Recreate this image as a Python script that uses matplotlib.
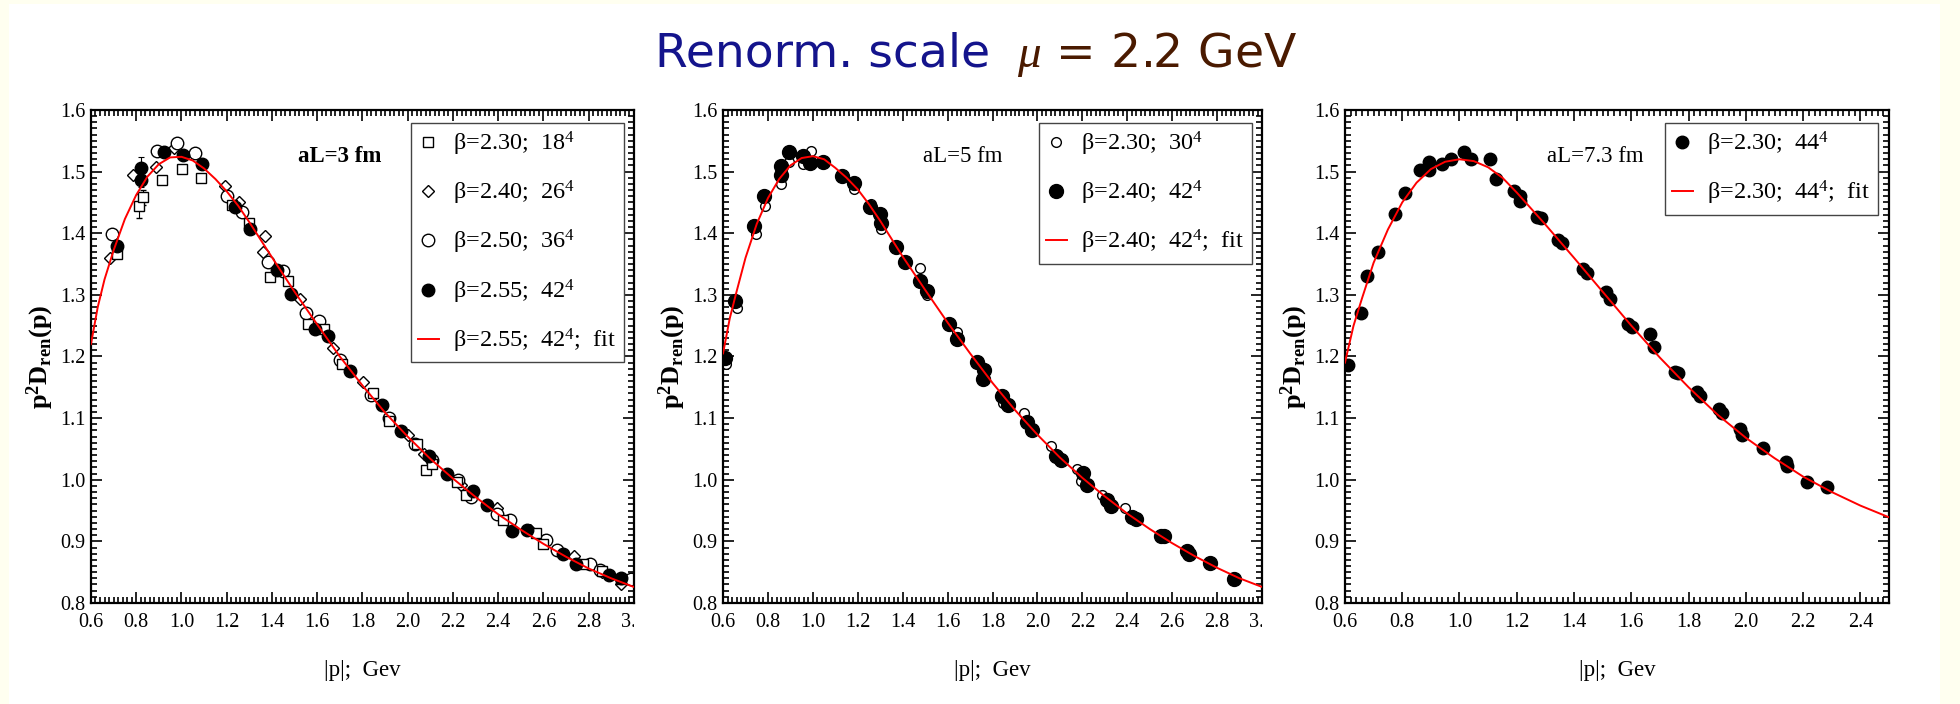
import matplotlib
matplotlib.use("Agg")
import matplotlib.pyplot as plt
from matplotlib.patches import Rectangle
from matplotlib.ticker import MultipleLocator
from matplotlib.transforms import Bbox, TransformedBbox

plt.rcParams["font.family"] = ["Liberation Serif", "DejaVu Serif"]
plt.rcParams["mathtext.fontset"] = "custom"
plt.rcParams["mathtext.rm"] = "Liberation Serif"
plt.rcParams["mathtext.it"] = "Liberation Serif:italic"
plt.rcParams["mathtext.bf"] = "Liberation Serif:bold"

# ---- panel 1: aL = 3 fm ----
p1_sq_x = [0.717, 0.814, 0.828, 0.912, 1.003, 1.085, 1.222, 1.297, 1.391, 1.471, 1.559, 1.631, 1.709,
           1.845, 1.919, 2.040, 2.082, 2.108, 2.220, 2.259, 2.421, 2.569, 2.597, 2.773, 2.857, 2.941]
p1_sq_y = [1.366, 1.444, 1.458, 1.487, 1.505, 1.490, 1.445, 1.417, 1.329, 1.323, 1.253, 1.245, 1.188,
           1.140, 1.096, 1.058, 1.015, 1.026, 0.997, 0.975, 0.935, 0.914, 0.895, 0.864, 0.852, 0.839]
p1_sq_err = [0.005, 0.020, 0.012, 0.005, 0.006, 0.006, 0.004, 0.004, 0.006, 0.004, 0.004, 0.004, 0.003,
             0.003, 0.003, 0.003, 0.004, 0.003, 0.002, 0.002, 0.002, 0.002, 0.002, 0.002, 0.002, 0.002]
p1_di_x = [0.684, 0.786, 0.888, 0.966, 1.191, 1.254, 1.369, 1.360, 1.525, 1.668, 1.804, 2.003, 2.071,
           2.237, 2.393, 2.541, 2.601, 2.737, 2.861, 2.945]
p1_di_y = [1.360, 1.494, 1.507, 1.538, 1.477, 1.450, 1.396, 1.369, 1.294, 1.213, 1.159, 1.073, 1.042,
           0.991, 0.954, 0.918, 0.902, 0.876, 0.851, 0.830]
p1_oc_x = [0.693, 0.894, 0.981, 1.059, 1.202, 1.269, 1.384, 1.447, 1.551, 1.607, 1.700, 1.839, 1.919,
           2.034, 2.108, 2.222, 2.281, 2.393, 2.452, 2.612, 2.662, 2.807, 2.852, 2.987]
p1_oc_y = [1.399, 1.533, 1.546, 1.530, 1.461, 1.435, 1.353, 1.339, 1.271, 1.258, 1.194, 1.137, 1.100,
           1.058, 1.032, 1.000, 0.972, 0.945, 0.935, 0.903, 0.886, 0.864, 0.854, 0.839]
p1_fc_x = [0.715, 0.823, 0.823, 0.921, 1.009, 1.092, 1.235, 1.304, 1.423, 1.486, 1.590, 1.648, 1.746,
           1.886, 1.971, 2.096, 2.174, 2.289, 2.352, 2.463, 2.526, 2.686, 2.744, 2.891, 2.943]
p1_fc_y = [1.379, 1.506, 1.487, 1.531, 1.527, 1.512, 1.442, 1.407, 1.341, 1.302, 1.244, 1.233, 1.176,
           1.121, 1.079, 1.038, 1.010, 0.981, 0.959, 0.916, 0.918, 0.880, 0.864, 0.846, 0.841]
p1_fc_err = [0.006, 0.018, 0.012, 0.004, 0.004, 0.004, 0.003, 0.003, 0.003, 0.003, 0.003, 0.003, 0.002,
             0.002, 0.002, 0.002, 0.002, 0.002, 0.002, 0.002, 0.002, 0.002, 0.002, 0.002, 0.002]
p1_fit_x = [0.60, 0.63, 0.66, 0.70, 0.75, 0.80, 0.85, 0.90, 0.95, 1.00, 1.05, 1.10, 1.15, 1.20, 1.25,
            1.30, 1.40, 1.50, 1.60, 1.70, 1.80, 1.90, 2.00, 2.10, 2.20, 2.30, 2.40, 2.50, 2.60, 2.70,
            2.80, 2.90, 3.00]
p1_fit_y = [1.220, 1.280, 1.325, 1.372, 1.423, 1.462, 1.492, 1.512, 1.523, 1.524, 1.518, 1.505, 1.488,
            1.468, 1.445, 1.418, 1.361, 1.305, 1.252, 1.200, 1.153, 1.109, 1.070, 1.034, 1.002, 0.972,
            0.944, 0.919, 0.896, 0.875, 0.856, 0.840, 0.826]

# ---- panel 2: aL = 5 fm ----
p2_oc_x = [0.611, 0.660, 0.746, 0.788, 0.858, 0.863, 0.894, 0.958, 0.993, 1.183, 1.258, 1.302, 1.477,
           1.510, 1.640, 1.755, 1.848, 1.942, 2.062, 2.174, 2.192, 2.287, 2.391]
p2_oc_y = [1.187, 1.278, 1.398, 1.444, 1.480, 1.492, 1.515, 1.512, 1.533, 1.471, 1.447, 1.407, 1.344,
           1.299, 1.239, 1.183, 1.124, 1.108, 1.055, 1.017, 0.998, 0.975, 0.954]
p2_fc_x = [0.607, 0.655, 0.739, 0.783, 0.856, 0.856, 0.892, 0.955, 0.989, 1.046, 1.130, 1.183, 1.254,
           1.298, 1.302, 1.370, 1.410, 1.476, 1.510, 1.605, 1.640, 1.730, 1.762, 1.759, 1.841, 1.867,
           1.954, 1.976, 2.082, 2.104, 2.201, 2.219, 2.311, 2.329, 2.420, 2.439, 2.548, 2.563, 2.665,
           2.676, 2.768, 2.876]
p2_fc_y = [1.197, 1.290, 1.412, 1.460, 1.494, 1.509, 1.531, 1.526, 1.514, 1.515, 1.493, 1.482, 1.442,
           1.431, 1.417, 1.377, 1.353, 1.323, 1.306, 1.253, 1.229, 1.191, 1.178, 1.164, 1.136, 1.121,
           1.094, 1.081, 1.038, 1.032, 1.011, 0.991, 0.967, 0.958, 0.940, 0.937, 0.909, 0.908, 0.884,
           0.880, 0.865, 0.839]
p2_fit_x = [0.60, 0.63, 0.66, 0.70, 0.75, 0.80, 0.85, 0.90, 0.95, 1.00, 1.05, 1.10, 1.15, 1.20, 1.25,
            1.30, 1.40, 1.50, 1.60, 1.70, 1.80, 1.90, 2.00, 2.10, 2.20, 2.30, 2.40, 2.50, 2.60, 2.70,
            2.80, 2.90, 3.00]
p2_fit_y = [1.205, 1.262, 1.305, 1.360, 1.415, 1.457, 1.488, 1.510, 1.522, 1.525, 1.520, 1.506, 1.490,
            1.471, 1.447, 1.420, 1.362, 1.308, 1.255, 1.205, 1.157, 1.113, 1.073, 1.036, 1.003, 0.973,
            0.945, 0.920, 0.897, 0.876, 0.857, 0.840, 0.826]

# ---- panel 3: aL = 7.3 fm ----
p3_fc_x = [0.612, 0.656, 0.678, 0.717, 0.776, 0.810, 0.861, 0.893, 0.893, 0.940, 0.970, 1.014, 1.039,
           1.105, 1.128, 1.190, 1.211, 1.211, 1.271, 1.285, 1.344, 1.359, 1.430, 1.446, 1.512, 1.527,
           1.590, 1.603, 1.665, 1.679, 1.751, 1.763, 1.830, 1.839, 1.905, 1.915, 1.978, 1.988, 2.061,
           2.139, 2.143, 2.212, 2.283]
p3_fc_y = [1.186, 1.271, 1.331, 1.369, 1.431, 1.465, 1.503, 1.515, 1.503, 1.512, 1.520, 1.531, 1.520,
           1.521, 1.488, 1.469, 1.452, 1.460, 1.426, 1.424, 1.389, 1.384, 1.342, 1.336, 1.304, 1.293,
           1.253, 1.248, 1.236, 1.215, 1.175, 1.173, 1.142, 1.136, 1.115, 1.108, 1.083, 1.072, 1.051,
           1.029, 1.023, 0.997, 0.989]
p3_fit_x = [0.60, 0.63, 0.66, 0.70, 0.75, 0.80, 0.85, 0.90, 0.95, 1.00, 1.05, 1.10, 1.15, 1.20, 1.30,
            1.40, 1.50, 1.60, 1.70, 1.80, 1.90, 2.00, 2.10, 2.20, 2.30, 2.40, 2.50]
p3_fit_y = [1.190, 1.250, 1.295, 1.352, 1.406, 1.450, 1.482, 1.504, 1.516, 1.520, 1.517, 1.507, 1.490,
            1.466, 1.414, 1.360, 1.305, 1.250, 1.198, 1.150, 1.106, 1.068, 1.035, 1.005, 0.980, 0.958,
            0.939]

panel_tags = ["aL=3 fm", "aL=5 fm", "aL=7.3 fm"]
x_max = [3.0, 3.0, 2.5]

OPEN = dict(mfc="white", mec="black", mew=1.0, ls="none")
FILLED = dict(mfc="black", mec="black", ls="none")
ERR = dict(ecolor="black", elinewidth=0.8, capsize=2, capthick=0.8)
FIT = dict(color="#ff0000", lw=1.4, zorder=4)


def _style_axes(ax, fig, xmax):
    ax.set_xlim(0.6, xmax)
    ax.set_ylim(0.8, 1.6)
    ax.xaxis.set_major_locator(MultipleLocator(0.2))
    ax.xaxis.set_minor_locator(MultipleLocator(0.02))
    ax.yaxis.set_major_locator(MultipleLocator(0.1))
    ax.yaxis.set_minor_locator(MultipleLocator(0.01))
    ax.xaxis.set_major_formatter(plt.FuncFormatter(lambda v, _: f"{v:.1f}"))
    ax.yaxis.set_major_formatter(plt.FuncFormatter(lambda v, _: f"{v:.1f}"))
    ax.tick_params(which="both", direction="in", top=True, right=True, width=1.2, labelsize=14.5)
    ax.tick_params(which="major", length=8)
    ax.tick_params(which="minor", length=4)
    ax.tick_params(axis="x", pad=7)
    ax.tick_params(axis="y", pad=4)
    for sp in ax.spines.values():
        sp.set_linewidth(1.6)
    ax.set_xlabel("|p|;  Gev", fontsize=16.5)
    ax.xaxis.set_label_coords(0.5, -0.115)
    ax.set_ylabel(r"$\mathbf{p^{2}D_{ren}(p)}$", fontsize=19)
    ax.yaxis.set_label_coords(-0.065, 0.5)
    # last tick label is cut off at the frame, as in the original
    pos = ax.get_position()
    clip = TransformedBbox(Bbox([[0, 0], [pos.x1, 1]]), fig.transFigure)
    for lbl in ax.get_xticklabels():
        lbl.set_clip_box(clip)
        lbl.set_clip_on(True)


def _legend(ax, handles, anchor):
    leg = ax.legend(handles=handles, loc="upper right", bbox_to_anchor=anchor, fontsize=17.5,
                    frameon=True, fancybox=False, edgecolor="#444444", framealpha=1,
                    borderpad=0.3, labelspacing=0.86, handlelength=0.85, handletextpad=0.6,
                    borderaxespad=0, numpoints=1)
    leg.get_frame().set_linewidth(1.0)
    return leg


fig = plt.figure(figsize=(19.6, 7.04), dpi=100, facecolor="#fffff0")
fig.patches.append(Rectangle((0.0046, 0.0), 0.985, 0.994, transform=fig.transFigure,
                             facecolor="white", edgecolor="none", zorder=-10))

fig.text(0.505, 0.905, "Renorm. scale", color="#14148c", fontsize=34,
         family=["DejaVu Sans"], ha="right", va="baseline")
fig.text(0.519, 0.905, r"$\mu$ = 2.2 GeV", color="#4a1a00", fontsize=34,
         family=["DejaVu Sans"], ha="left", va="baseline")

rects = [[0.0464, 0.1435, 0.2770, 0.7003],
         [0.3689, 0.1435, 0.2750, 0.7003],
         [0.6862, 0.1435, 0.2776, 0.7003]]
axes = [fig.add_axes(r) for r in rects]

# panel 1
ax = axes[0]
sq = ax.errorbar(p1_sq_x, p1_sq_y, yerr=p1_sq_err, marker="s", ms=7, **OPEN, **ERR)[0]
sq.set_label(r"β=2.30;  18$^4$")
di, = ax.plot(p1_di_x, p1_di_y, marker="D", ms=6.5, label=r"β=2.40;  26$^4$", **OPEN)
oc, = ax.plot(p1_oc_x, p1_oc_y, marker="o", ms=9, label=r"β=2.50;  36$^4$", **OPEN)
fc = ax.errorbar(p1_fc_x, p1_fc_y, yerr=p1_fc_err, marker="o", ms=9, **FILLED, **ERR)[0]
fc.set_label(r"β=2.55;  42$^4$")
fit, = ax.plot(p1_fit_x, p1_fit_y, label=r"β=2.55;  42$^4$;  fit", **FIT)
ax.text(1.70, 1.525, panel_tags[0], fontsize=16.5, fontweight="bold", ha="center", va="center")
_legend(ax, [sq, di, oc, fc, fit], (0.981, 0.974))

# panel 2
ax = axes[1]
oc, = ax.plot(p2_oc_x, p2_oc_y, marker="o", ms=7, label=r"β=2.30;  30$^4$", **OPEN)
fc, = ax.plot(p2_fc_x, p2_fc_y, marker="o", ms=10, label=r"β=2.40;  42$^4$", **FILLED)
fit, = ax.plot(p2_fit_x, p2_fit_y, label=r"β=2.40;  42$^4$;  fit", **FIT)
ax.text(1.666, 1.525, panel_tags[1], fontsize=16.5, ha="center", va="center")
_legend(ax, [oc, fc, fit], (0.981, 0.974))

# panel 3
ax = axes[2]
fc, = ax.plot(p3_fc_x, p3_fc_y, marker="o", ms=9, label=r"β=2.30;  44$^4$", **FILLED)
fit, = ax.plot(p3_fit_x, p3_fit_y, label=r"β=2.30;  44$^4$;  fit", **FIT)
ax.text(1.473, 1.525, panel_tags[2], fontsize=16.5, ha="center", va="center")
_legend(ax, [fc, fit], (0.979, 0.974))

for ax, xm in zip(axes, x_max):
    _style_axes(ax, fig, xm)

fig.savefig("out.png", dpi=100, facecolor=fig.get_facecolor())
plt.close(fig)
